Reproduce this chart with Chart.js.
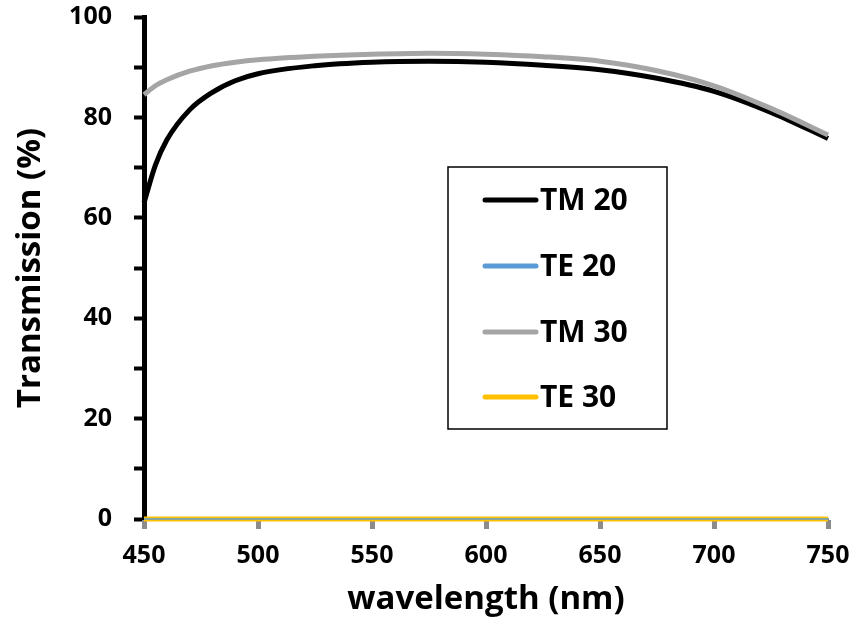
<!DOCTYPE html>
<html>
<head>
<meta charset="utf-8">
<script src="https://cdn.jsdelivr.net/npm/chart.js@4"></script>
<style>
  html, body { margin: 0; padding: 0; background: #fff; }
  #wrap { width: 856px; height: 625px; }
</style>
</head>
<body>
<div id="wrap"><canvas id="myChart" width="856" height="625"></canvas></div>
<script>
var wavelengths = [450, 455, 460, 470, 480, 490, 500, 525, 550, 575, 600, 625, 650, 675, 700, 725, 750];
var tm20 = [63, 70.5, 75.5, 81.5, 85, 87.3, 88.7, 90.3, 91, 91.2, 91, 90.4, 89.5, 87.8, 85.2, 81, 75.8];
var te20 = [0, 0, 0, 0, 0, 0, 0, 0, 0, 0, 0, 0, 0, 0, 0, 0, 0];
var tm30 = [84.5, 86.3, 87.5, 89.2, 90.3, 91, 91.5, 92.2, 92.6, 92.8, 92.6, 92.1, 91.2, 89.3, 86.3, 81.8, 76.5];
var te30 = [0, 0, 0, 0, 0, 0, 0, 0, 0, 0, 0, 0, 0, 0, 0, 0, 0];
var seriesNames = ["TM 20", "TE 20", "TM 30", "TE 30"];
var xTicks = [450, 500, 550, 600, 650, 700, 750];
var yTicks = [0, 20, 40, 60, 80, 100];

var FONT = "'Open Sans', sans-serif";

function pts(ys) {
  return wavelengths.map(function(w, i) { return { x: w, y: ys[i] }; });
}

// legend box drawn inside the plot, like the original
var boxLegend = {
  id: "boxLegend",
  afterDraw: function(chart) {
    var ctx = chart.ctx;
    ctx.save();
    ctx.strokeStyle = "#000";
    ctx.lineWidth = 1.5;
    ctx.fillStyle = "#fff";
    ctx.fillRect(448, 167, 219, 262);
    ctx.strokeRect(448, 167, 219, 262);
    var rows = [200, 266, 332, 397];
    ctx.font = "bold 30px " + FONT;
    ctx.textBaseline = "middle";
    ctx.lineCap = "round";
    chart.data.datasets.forEach(function(ds, i) {
      ctx.strokeStyle = ds.borderColor;
      ctx.lineWidth = 5;
      ctx.beginPath();
      ctx.moveTo(485, rows[i]);
      ctx.lineTo(536, rows[i]);
      ctx.stroke();
      ctx.fillStyle = "#000";
      ctx.fillText(ds.label, 540, rows[i] + 1);
    });
    ctx.restore();
  }
};

window.onload = function() {
  var ctx = document.getElementById("myChart").getContext("2d");
  new Chart(ctx, {
    type: "line",
    data: {
      datasets: [
        { label: seriesNames[0], data: pts(tm20), borderColor: "#000000", borderWidth: 5, order: 4 },
        { label: seriesNames[1], data: pts(te20), borderColor: "#5b9bd5", borderWidth: 1.5, order: 1 },
        { label: seriesNames[2], data: pts(tm30), borderColor: "#a5a5a5", borderWidth: 5, order: 3 },
        { label: seriesNames[3], data: pts(te30), borderColor: "#ffc000", borderWidth: 5, order: 2 }
      ]
    },
    options: {
      responsive: false,
      animation: false,
      clip: false,
      layout: { padding: { top: 17, right: 28, left: 0, bottom: 0 } },
      elements: {
        point: { radius: 0 },
        line: { cubicInterpolationMode: "monotone", fill: false, borderCapStyle: "butt" }
      },
      plugins: { legend: { display: false }, tooltip: { enabled: false } },
      scales: {
        x: {
          type: "linear",
          min: 450,
          max: 750,
          afterBuildTicks: function(axis) { axis.ticks = xTicks.map(function(v) { return { value: v }; }); },
          afterFit: function(axis) { axis.height = 106; axis.paddingLeft = 0; axis.paddingRight = 0; },
          ticks: { color: "#000", font: { family: FONT, size: 25, weight: "bold" }, padding: 12, maxRotation: 0 },
          grid: { drawOnChartArea: false, drawTicks: true, tickLength: 10, tickColor: "#8c8c8c", tickWidth: 5 },
          border: { color: "#8c8c8c", width: 2 },
          title: {
            display: true,
            text: "wavelength (nm)",
            color: "#000",
            font: { family: FONT, size: 33, weight: "bold" },
            padding: { top: 0, bottom: 6 }
          }
        },
        y: {
          min: 0,
          max: 100,
          afterBuildTicks: function(axis) {
            var t = [];
            for (var v = 0; v <= 100; v += 10) t.push({ value: v });
            axis.ticks = t;
          },
          afterFit: function(axis) { axis.width = 144; axis.paddingTop = 0; axis.paddingBottom = 0; },
          ticks: {
            color: "#000",
            font: { family: FONT, size: 25, weight: "bold" },
            padding: 22,
            callback: function(v) { return yTicks.indexOf(v) >= 0 ? v : ""; }
          },
          grid: { drawOnChartArea: false, drawTicks: true, tickLength: 10, tickColor: "#000", tickWidth: 4 },
          border: { color: "#000", width: 5 },
          title: {
            display: true,
            text: "Transmission (%)",
            color: "#000",
            font: { family: FONT, size: 33, weight: "bold" },
            padding: { top: 11, bottom: 0 }
          }
        }
      }
    },
    plugins: [boxLegend]
  });
};
</script>
</body>
</html>
